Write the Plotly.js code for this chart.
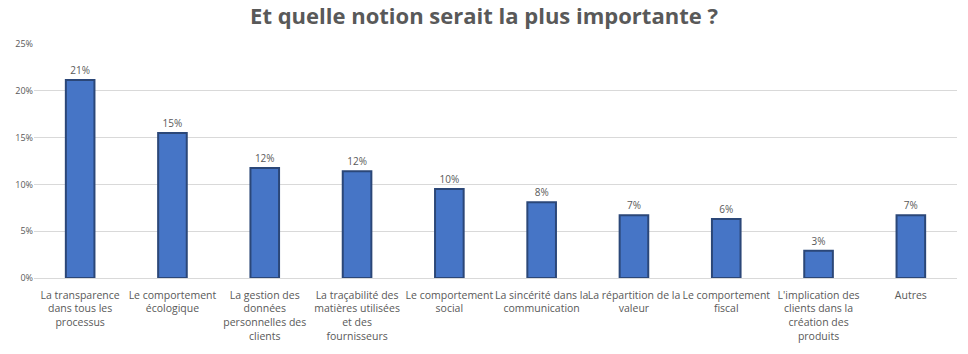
<!DOCTYPE html>
<html><head><meta charset="utf-8">
<script src="https://cdn.plot.ly/plotly-3.0.1.min.js"></script>
<style>html,body{margin:0;padding:0;background:#fff;}#chart{width:968px;height:354px;}</style>
</head><body><div id="chart"></div>
<script>
const categories = [
  "La transparence<br>dans tous les<br>processus",
  "Le comportement<br>écologique",
  "La gestion des<br>données<br>personnelles des<br>clients",
  "La traçabilité des<br>matières utilisées<br>et des<br>fournisseurs",
  "Le comportement<br>social",
  "La sincérité dans la<br>communication",
  "La répartition de la<br>valeur",
  "Le comportement<br>fiscal",
  "L'implication des<br>clients dans la<br>création des<br>produits",
  "Autres"
];
const values = [0.2115, 0.155, 0.1175, 0.114, 0.095, 0.081, 0.067, 0.063, 0.029, 0.067];
const labels = ["21%","15%","12%","12%","10%","8%","7%","6%","3%","7%"];

const trace = {
  type: 'bar',
  x: categories,
  y: values,
  text: labels,
  textposition: 'outside',
  cliponaxis: false,
  textfont: {family: 'Open Sans, sans-serif', size: 10, color: '#595959'},
  marker: {color: '#4675C6', line: {color: '#2B4778', width: 2}},
  hoverinfo: 'none'
};
const layout = {
  width: 968, height: 354,
  margin: {l: 34, r: 11, t: 44, b: 76},
  paper_bgcolor: '#fff', plot_bgcolor: '#fff',
  bargap: 0.69,
  showlegend: false,
  title: {text: '<b>Et quelle notion serait la plus importante ?</b>', x: 0.5, xanchor: 'center', y: 0.955, yanchor: 'middle',
          font: {family: 'Open Sans, sans-serif', size: 22, color: '#595959'}},
  xaxis: {tickfont: {family: 'Open Sans, sans-serif', size: 10.5, color: '#595959'}, tickangle: 0,
          showline: false, ticks: 'outside', ticklen: 7, tickcolor: 'rgba(0,0,0,0)', automargin: false, fixedrange: true},
  yaxis: {range: [0, 0.25], dtick: 0.05, tickformat: '.0%', gridcolor: '#D9D9D9', gridwidth: 1,
          zeroline: true, zerolinecolor: '#D9D9D9', zerolinewidth: 1,
          tickfont: {family: 'Open Sans, sans-serif', size: 9, color: '#595959'}, ticks: '', ticklen: 0,
          automargin: false, fixedrange: true}
};
Plotly.newPlot('chart', [trace], layout, {displayModeBar: false, staticPlot: true});
</script></body></html>
